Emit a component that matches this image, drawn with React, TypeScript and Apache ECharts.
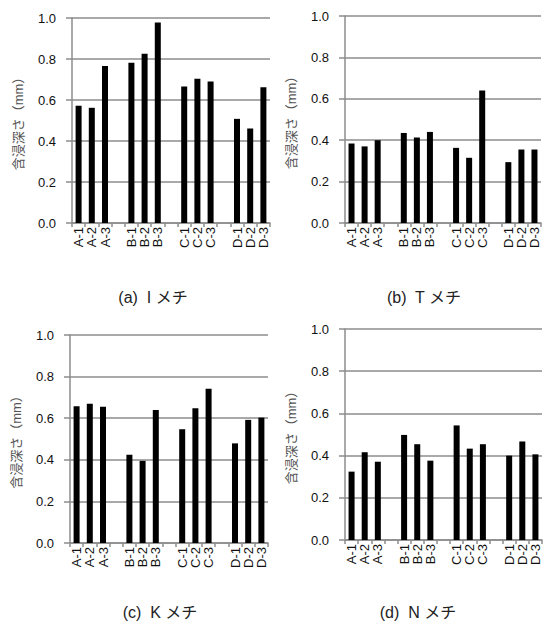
import React, { useEffect, useRef } from "react";
import * as echarts from "echarts";

const categories = ["A-1", "A-2", "A-3", "", "B-1", "B-2", "B-3", "", "C-1", "C-2", "C-3", "", "D-1", "D-2", "D-3"];

const valuesI = [0.572, 0.562, 0.766, null, 0.782, 0.826, 0.978, null, 0.666, 0.704, 0.690, null, 0.508, 0.461, 0.662];
const valuesT = [0.384, 0.370, 0.400, null, 0.435, 0.413, 0.440, null, 0.363, 0.315, 0.640, null, 0.294, 0.355, 0.355];
const valuesK = [0.658, 0.669, 0.655, null, 0.424, 0.395, 0.640, null, 0.547, 0.648, 0.742, null, 0.479, 0.592, 0.603];
const valuesN = [0.324, 0.416, 0.371, null, 0.498, 0.454, 0.376, null, 0.543, 0.433, 0.454, null, 0.400, 0.467, 0.406];

const captions = ["(a)  I メチ", "(b)  T メチ", "(c)  K メチ", "(d)  N メチ"];
const yTicks = [0, 0.2, 0.4, 0.6, 0.8, 1.0];
const yTitle = "含浸深さ（mm）";

const FONT = "'Liberation Sans', Arial, 'Noto Sans CJK JP', sans-serif";
const GRAY = "#8c8c8c";

export default function App() {
  const ref = useRef<HTMLDivElement>(null);
  useEffect(() => {
    document.body.style.margin = "0";
    if (!ref.current) return;
    const chart = echarts.init(ref.current, null, { renderer: "svg" });
    const grids = [
      { left: 72, top: 18, width: 198, height: 205 },
      { left: 345, top: 16, width: 196, height: 207 },
      { left: 70, top: 335, width: 198, height: 208 },
      { left: 345, top: 329, width: 197, height: 211 },
    ];
    const allValues = [valuesI, valuesT, valuesK, valuesN];
    const captionPos = [
      [153, 297],
      [424, 297],
      [160, 612],
      [418, 612],
    ];
    chart.setOption({
      animation: false,
      backgroundColor: "#ffffff",
      textStyle: { fontFamily: FONT },
      grid: grids,
      xAxis: grids.map((_, i) => ({
        type: "category",
        gridIndex: i,
        data: categories,
        boundaryGap: true,
        axisLine: { show: true, lineStyle: { color: GRAY, width: 1.5 } },
        axisTick: { show: true, interval: 0, length: 4, lineStyle: { color: GRAY, width: 1.5 } },
        axisLabel: { interval: 0, rotate: 90, margin: 4, fontSize: 13, color: "#111", fontFamily: FONT },
        splitLine: { show: false },
      })),
      yAxis: grids.map((_, i) => ({
        type: "value",
        gridIndex: i,
        min: yTicks[0],
        max: yTicks[yTicks.length - 1],
        interval: 0.2,
        name: yTitle,
        nameLocation: "middle",
        nameRotate: 90,
        nameGap: 47,
        nameTextStyle: { fontSize: 13, color: "#555", fontFamily: FONT },
        axisLine: { show: true, lineStyle: { color: GRAY, width: 1.5 } },
        axisTick: { show: true, length: 6, lineStyle: { color: GRAY, width: 1.5 } },
        axisLabel: {
          margin: 16,
          fontSize: 13,
          color: "#111",
          fontFamily: FONT,
          formatter: (v: number) => v.toFixed(1),
        },
        splitLine: { show: true, lineStyle: { color: GRAY, width: 1.5 } },
      })),
      series: allValues.map((vals, i) => ({
        type: "bar",
        xAxisIndex: i,
        yAxisIndex: i,
        data: vals,
        barWidth: 6,
        itemStyle: { color: "#000" },
      })),
      graphic: captions.map((c, i) => ({
        type: "text",
        x: captionPos[i][0],
        y: captionPos[i][1],
        style: {
          text: c,
          fontSize: 16,
          fontFamily: FONT,
          fill: "#222",
          textAlign: "center",
          textVerticalAlign: "middle",
        },
      })),
    });
    return () => chart.dispose();
  }, []);
  return <div ref={ref} style={{ width: 545, height: 623 }} />;
}
